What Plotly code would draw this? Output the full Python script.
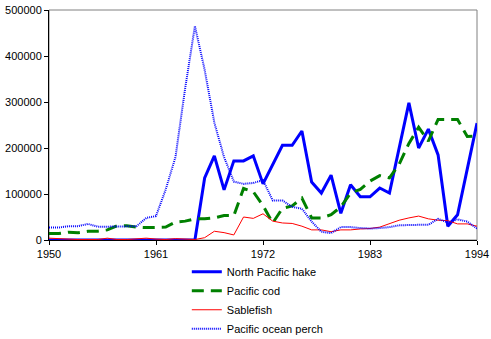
import plotly.graph_objects as go

years = list(range(1950, 1995))

hake = [0, 0, 0, 0, 0, 0, 0, 0, 0, 0,
        0, 0, 0, 0, 0, 0, 135000, 183000, 109000, 172000,
        172000, 183000, 122000, 165000, 206000, 206000, 237000, 126000, 102000, 141000,
        58000, 120000, 94000, 94000, 113000, 102000, 200000, 298000, 200000, 241000,
        185000, 30000, 55000, 155000, 254000]

cod = [14000, 14000, 17000, 16000, 19000, 19000, 22000, 31000, 31000, 28000,
       27000, 27000, 28000, 39000, 41000, 46000, 46000, 48000, 53000, 53000,
       112000, 105000, 75000, 37000, 69000, 74000, 91000, 48000, 48000, 55000,
       72000, 102000, 110000, 128000, 140000, 135000, 165000, 210000, 245000, 215000,
       262000, 262000, 262000, 225000, 226000]

sablefish = [4000, 3000, 1000, 1000, 1000, 1000, 4000, 1000, 1000, 3000,
             4000, 2000, 1000, 3000, 2000, 1000, 5000, 19000, 16000, 11000,
             50000, 47000, 57000, 41000, 37000, 36000, 30000, 22000, 22000, 18000,
             22000, 22000, 24000, 25000, 28000, 36000, 43000, 48000, 52000, 46000,
             43000, 42000, 35000, 35000, 30000]

perch = [27000, 27000, 30000, 30000, 35000, 29000, 29000, 29000, 29000, 30000,
         48000, 52000, 110000, 180000, 330000, 465000, 370000, 255000, 180000, 127000,
         122000, 124000, 130000, 86000, 86000, 72000, 68000, 40000, 18000, 15000,
         28000, 28000, 26000, 25000, 26000, 28000, 32000, 33000, 33000, 33000,
         46000, 38000, 45000, 40000, 25000]

x_ticks = [1950, 1961, 1972, 1983, 1994]
y_ticks = [0, 100000, 200000, 300000, 400000, 500000]

fig = go.Figure()
fig.add_trace(go.Scatter(x=years, y=hake, mode="lines", name="North Pacific hake",
                         line=dict(color="#0000FF", width=3)))
fig.add_trace(go.Scatter(x=years, y=cod, mode="lines", name="Pacific cod",
                         line=dict(color="#008000", width=3, dash="12px,7px")))
fig.add_trace(go.Scatter(x=years, y=sablefish, mode="lines", name="Sablefish",
                         line=dict(color="#FF0000", width=1)))
fig.add_trace(go.Scatter(x=years, y=perch, mode="lines", name="Pacific ocean perch",
                         line=dict(color="#0000FF", width=2, dash="1px,1px")))

fig.add_shape(type="rect", xref="paper", yref="paper", x0=0, x1=1, y0=0, y1=1,
              line=dict(color="#808080", width=1), layer="below")

fig.update_layout(
    width=491, height=339,
    margin=dict(l=49, r=14, t=10, b=99, autoexpand=False),
    paper_bgcolor="white", plot_bgcolor="white",
    font=dict(family="Liberation Sans, Arial, sans-serif", size=11, color="black"),
    showlegend=True,
    legend=dict(x=0.322, y=-0.075, xanchor="left", yanchor="top",
                bgcolor="rgba(0,0,0,0)", font=dict(size=11), tracegroupgap=0),
    xaxis=dict(range=[1950, 1994], tickvals=x_ticks, ticktext=[str(v) for v in x_ticks],
               showgrid=False, zeroline=False, showline=True, linecolor="black", linewidth=1,
               ticks="outside", ticklen=4, tickcolor="black", automargin=False),
    yaxis=dict(range=[0, 500000], tickvals=y_ticks, ticktext=[str(v) for v in y_ticks],
               showgrid=False, zeroline=False, showline=True, linecolor="black", linewidth=1,
               ticks="outside", ticklen=4, tickcolor="black", automargin=False),
)

fig.write_html("out.html")
